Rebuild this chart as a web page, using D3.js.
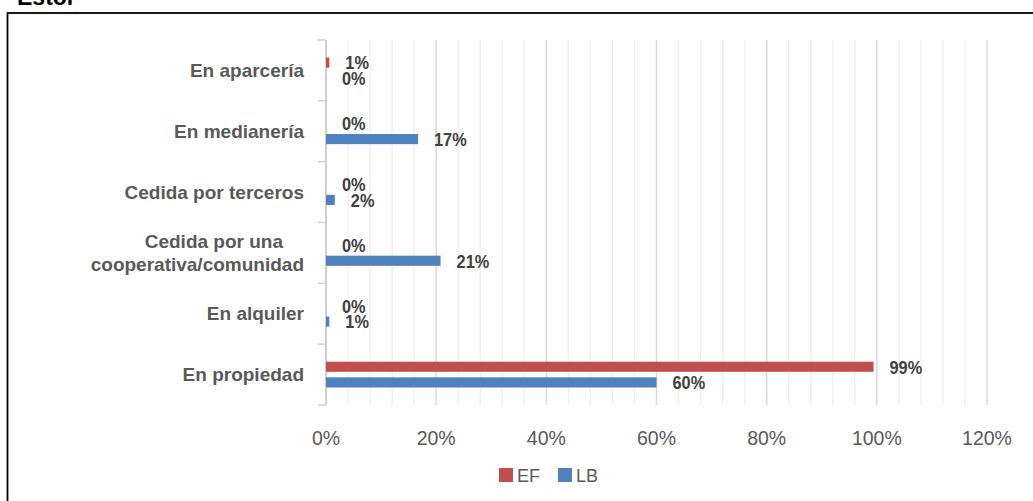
<!DOCTYPE html>
<html>
<head>
<meta charset="utf-8">
<script src="https://cdn.jsdelivr.net/npm/d3@7"></script>
<style>
  html, body { margin: 0; padding: 0; background: #fff; }
  svg { display: block; }
</style>
</head>
<body>
<div id="chart"></div>
<script>
// data
const categories = [
  "En aparcería",
  "En medianería",
  "Cedida por terceros",
  "Cedida por una\ncooperativa/comunidad",
  "En alquiler",
  "En propiedad"
];
const seriesNames = ["EF", "LB"];
const efValues = [0.006, 0, 0, 0, 0, 0.994];
const lbValues = [0, 0.167, 0.016, 0.208, 0.006, 0.600];
const xTicks = [0, 0.2, 0.4, 0.6, 0.8, 1.0, 1.2];
const colors = { EF: "#C0504D", LB: "#4F81BD" };

const width = 1033, height = 501;
const plot = { left: 326, right: 987, top: 40, bottom: 405 };

const svg = d3.select("#chart").append("svg")
  .attr("width", width).attr("height", height);

// cut-off title and the outer frame
svg.append("text")
  .attr("x", 17).attr("y", 4.5)
  .style("font-family", "Liberation Sans, Arial, sans-serif")
  .style("font-weight", "bold").style("font-size", "23px")
  .attr("fill", "#000")
  .text("Estor");

svg.append("rect")
  .attr("x", 7.5).attr("y", 13)
  .attr("width", 1040).attr("height", 500)
  .attr("fill", "none").attr("stroke", "#000").attr("stroke-width", 1.8);

const x = d3.scaleLinear().domain([0, 1.2]).range([plot.left, plot.right]);
const y = d3.scaleBand().domain(categories).range([plot.top, plot.bottom]);
const inner = d3.scaleBand().domain(seriesNames)
  .range([y.bandwidth() * 0.288, y.bandwidth() * 0.712])
  .paddingInner(0.353);

// minor gridlines every 4%, major every 20%
const minor = d3.range(0, 31).map(i => i * 0.04).filter(v => Math.round(v * 100) % 20 !== 0);
svg.append("g").selectAll("line").data(minor).join("line")
  .attr("x1", d => x(d)).attr("x2", d => x(d))
  .attr("y1", plot.top).attr("y2", plot.bottom)
  .attr("stroke", "#efefef").attr("stroke-width", 1.3);

svg.append("g").selectAll("line").data(xTicks.slice(1)).join("line")
  .attr("x1", d => x(d)).attr("x2", d => x(d))
  .attr("y1", plot.top).attr("y2", plot.bottom)
  .attr("stroke", "#d9d9d9").attr("stroke-width", 1.5);

// x tick labels
svg.append("g").selectAll("text").data(xTicks).join("text")
  .attr("x", d => x(d)).attr("y", 445)
  .attr("text-anchor", "middle")
  .style("font-family", "Liberation Sans, Arial, sans-serif")
  .style("font-size", "19.5px")
  .attr("fill", "#595959")
  .text(d => Math.round(d * 100) + "%");

// category axis line and ticks
svg.append("line")
  .attr("x1", plot.left).attr("x2", plot.left)
  .attr("y1", plot.top).attr("y2", plot.bottom)
  .attr("stroke", "#d0d0d0").attr("stroke-width", 2);

const bounds = categories.map(c => y(c)).concat([plot.bottom]);
svg.append("g").selectAll("line").data(bounds).join("line")
  .attr("x1", plot.left - 8).attr("x2", plot.left)
  .attr("y1", d => d).attr("y2", d => d)
  .attr("stroke", "#d0d0d0").attr("stroke-width", 1.5);

// category labels
const catG = svg.append("g")
  .style("font-family", "Liberation Sans, Arial, sans-serif")
  .style("font-weight", "bold").style("font-size", "19px")
  .attr("fill", "#595959");

categories.forEach(c => {
  const lines = c.split("\n");
  const cy = y(c) + y.bandwidth() / 2;
  lines.forEach((ln, i) => {
    const off = (i - (lines.length - 1) / 2) * 23;
    catG.append("text")
      .attr("x", lines.length > 1 && i === 0 ? 283 : 304)
      .attr("y", cy + off)
      .attr("dy", "0.35em")
      .attr("text-anchor", "end")
      .text(ln);
  });
});

// bars
const rows = categories.map((c, i) => ({ cat: c, EF: efValues[i], LB: lbValues[i] }));
const barData = rows.flatMap(r => seriesNames.map(s => ({ cat: r.cat, key: s, value: r[s] })));

svg.append("g").selectAll("rect").data(barData).join("rect")
  .attr("x", x(0))
  .attr("y", d => y(d.cat) + inner(d.key))
  .attr("width", d => x(d.value) - x(0))
  .attr("height", inner.bandwidth())
  .attr("fill", d => colors[d.key]);

// data labels (narrow bold, squeezed horizontally)
svg.append("g").selectAll("text").data(barData).join("text")
  .attr("transform", d => `translate(${x(d.value) + 16},${y(d.cat) + inner(d.key) + inner.bandwidth() / 2}) scale(0.86,1)`)
  .attr("dy", "0.36em")
  .style("font-family", "Liberation Sans, Arial, sans-serif")
  .style("font-weight", "bold").style("font-size", "19px")
  .attr("fill", "#404040")
  .text(d => Math.round(d.value * 100) + "%");

// legend
const legend = svg.append("g").attr("transform", "translate(499, 468)");
const legendX = { EF: 0, LB: 59 };
seriesNames.forEach(s => {
  const g = legend.append("g").attr("transform", `translate(${legendX[s]},0)`);
  g.append("rect").attr("width", 14).attr("height", 14).attr("fill", colors[s]);
  g.append("text")
    .attr("x", 18).attr("y", 13.5)
    .style("font-family", "Liberation Sans, Arial, sans-serif")
    .style("font-size", "18px")
    .attr("fill", "#595959")
    .text(s);
});
</script>
</body>
</html>
